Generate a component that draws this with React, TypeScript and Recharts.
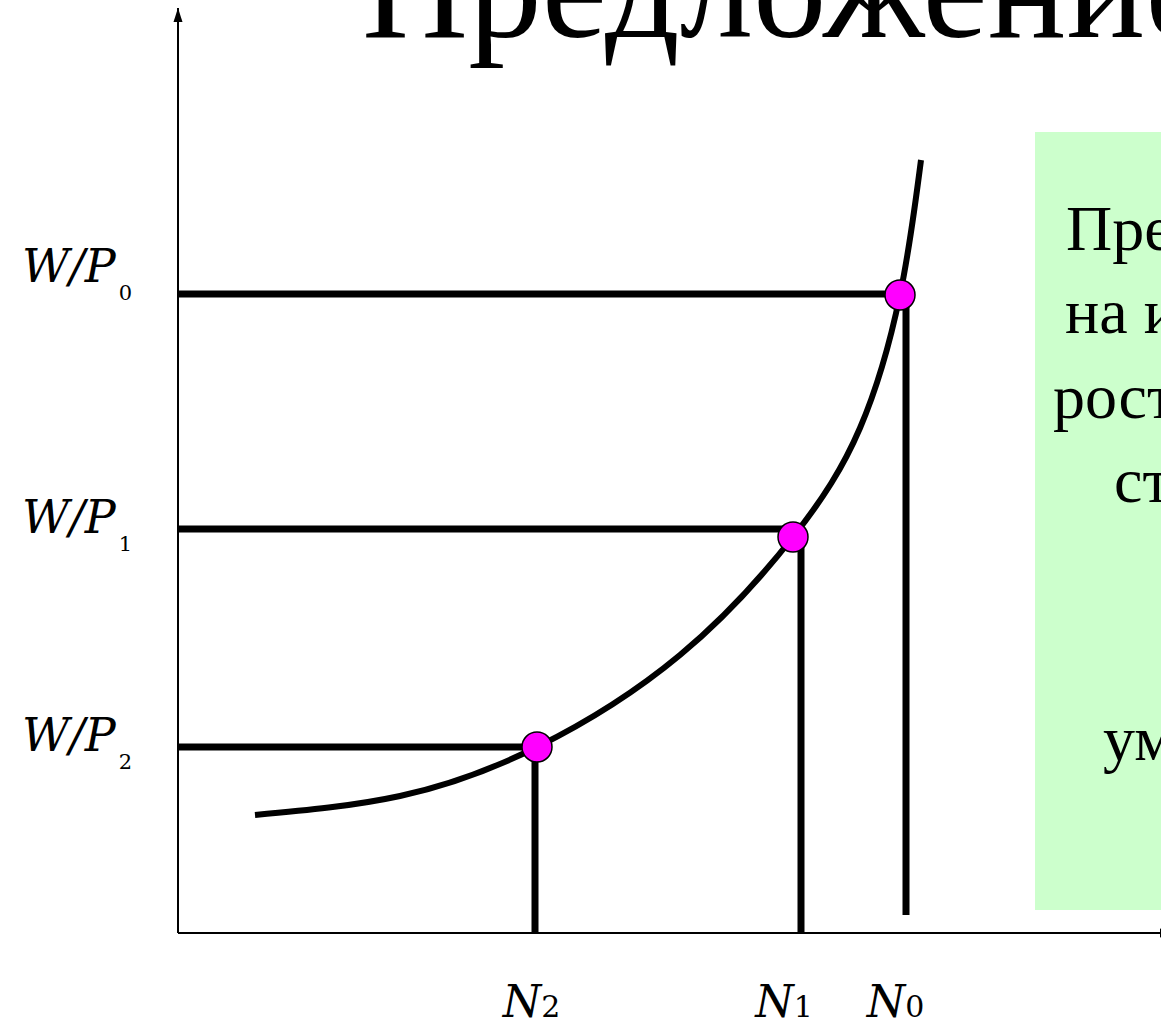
import React from "react";
import { ComposedChart, Line, Scatter, XAxis, YAxis, ReferenceArea } from "recharts";

const CHART_W = 1161;
const CHART_H = 1023;
const MARGIN = { top: 8, right: 0, bottom: 0, left: 0 };
const Y_AXIS_W = 178;
const X_AXIS_H = 90;
const X_MAX = 98.3;
const Y_MAX = 92.5;

// Labor supply curve: employment N (x) vs real wage W/P (y)
const curveN = [7.7, 22.2, 35.9, 50.2, 61.5, 68.2, 72.2, 74.3];
const curveWage = [11.8, 13.7, 18.6, 27.8, 39.6, 50.5, 63.8, 77.3];

// Equilibrium points (N0, N1, N2)
const pointN = [72.2, 61.5, 35.9];
const pointWage = [63.8, 39.6, 18.6];

// Horizontal guide lines from the wage axis
const wageLevels = [63.9, 40.4, 18.6];
const wageLineEnd = [72.2, 61.0, 35.9];

// Vertical guide lines down to the employment axis
const employmentLevels = [72.8, 62.3, 35.7];
const employmentLineTop = [63.8, 39.3, 18.6];
const employmentLineBottom = [1.8, 0, 0];

// Axis tick labels
const wageTickValues = [19.0, 40.8, 65.9];
const wageTickSubs = ["2", "1", "0"];
const nTickValues = [35.35, 60.6, 71.75];
const nTickSubs = ["2", "1", "0"];

// Text
const boxLines = ["Предложение труда", "на индивидуальном", "рост реальной", "ставки", "уменьшается"];
const titleText = "Предложение труда";

const curveData = curveN.map((n, i) => ({ n, w: curveWage[i] }));
const pointData = pointN.map((n, i) => ({ n, w: pointWage[i] }));

const SERIF = "'Liberation Serif', 'Times New Roman', serif";
const MATH = "'DejaVu Serif', 'Liberation Serif', serif";

const YTick = (props: any) => {
  const { y, index } = props;
  return (
    <text x={22} y={y + 8} fontFamily={MATH} fontStyle="italic" fontSize={46} fill="#000">
      W/P
      <tspan fontStyle="normal" fontSize={21} dx={3} dy={18}>
        {wageTickSubs[index]}
      </tspan>
    </text>
  );
};

const XTick = (props: any) => {
  const { x, index } = props;
  return (
    <text x={x} y={CHART_H - X_AXIS_H + 84} textAnchor="middle" fontFamily={MATH} fill="#000">
      <tspan fontStyle="italic" fontSize={44}>N</tspan>
      <tspan fontSize={30}>{nTickSubs[index]}</tspan>
    </text>
  );
};

const Dot = (props: any) => (
  <circle cx={props.cx} cy={props.cy} r={15} fill="#FF00FF" stroke="#000" strokeWidth={1.5} />
);

const ArrowUp = (props: any) => (
  <polygon
    points={`${props.cx},${props.cy} ${props.cx - 4.5},${props.cy + 14} ${props.cx + 4.5},${props.cy + 14}`}
    fill="#000"
  />
);

const ArrowRight = (props: any) => (
  <polygon
    points={`${props.cx - 1},${props.cy - 4.5} ${props.cx + 13},${props.cy} ${props.cx - 1},${props.cy + 4.5}`}
    fill="#000"
  />
);

const boxX = [1066, 1065, 1053, 1114, 1103];
const boxY = [250, 333, 418, 502, 760];

export default function App() {
  return (
    <div
      style={{
        position: "absolute",
        left: 0,
        top: 0,
        width: CHART_W,
        height: CHART_H,
        overflow: "hidden",
        background: "#fff",
      }}
    >
      <ComposedChart width={CHART_W} height={CHART_H} margin={MARGIN}>
        <XAxis
          type="number"
          dataKey="n"
          domain={[0, X_MAX]}
          ticks={nTickValues}
          tick={<XTick />}
          tickLine={false}
          axisLine={{ stroke: "#000", strokeWidth: 2 }}
          height={X_AXIS_H}
          interval={0}
        />
        <YAxis
          type="number"
          dataKey="w"
          domain={[0, Y_MAX]}
          ticks={wageTickValues}
          tick={<YTick />}
          tickLine={false}
          axisLine={{ stroke: "#000", strokeWidth: 2 }}
          width={Y_AXIS_W}
          interval={0}
        />
        <ReferenceArea x1={85.7} x2={X_MAX} y1={2.3} y2={80.1} fill="#CCFFCC" fillOpacity={1} stroke="none" />
        {wageLevels.map((w, i) => (
          <Line
            key={"h" + i}
            data={[
              { n: 0, w },
              { n: wageLineEnd[i], w },
            ]}
            dataKey="w"
            type="linear"
            stroke="#000"
            strokeWidth={7}
            dot={false}
            activeDot={false}
            isAnimationActive={false}
          />
        ))}
        {employmentLevels.map((n, i) => (
          <Line
            key={"v" + i}
            data={[
              { n, w: employmentLineTop[i] },
              { n, w: employmentLineBottom[i] },
            ]}
            dataKey="w"
            type="linear"
            stroke="#000"
            strokeWidth={7}
            dot={false}
            activeDot={false}
            isAnimationActive={false}
          />
        ))}
        <Line
          data={curveData}
          dataKey="w"
          type="natural"
          stroke="#000"
          strokeWidth={6}
          dot={false}
          activeDot={false}
          isAnimationActive={false}
        />
        <Scatter data={pointData} dataKey="w" shape={<Dot />} isAnimationActive={false} />
        <Scatter data={[{ n: 0, w: Y_MAX }]} dataKey="w" shape={<ArrowUp />} isAnimationActive={false} />
        <Scatter data={[{ n: X_MAX, w: 0 }]} dataKey="w" shape={<ArrowRight />} isAnimationActive={false} />
      </ComposedChart>
      <svg
        width={CHART_W}
        height={CHART_H}
        style={{ position: "absolute", left: 0, top: 0, pointerEvents: "none" }}
      >
        <text x={362} y={37} fontFamily={SERIF} fontSize={147} fill="#000">
          {titleText}
        </text>
        {boxLines.map((t, i) => (
          <text key={i} x={boxX[i]} y={boxY[i]} fontFamily={SERIF} fontSize={64} fill="#000">
            {t}
          </text>
        ))}
      </svg>
    </div>
  );
}
